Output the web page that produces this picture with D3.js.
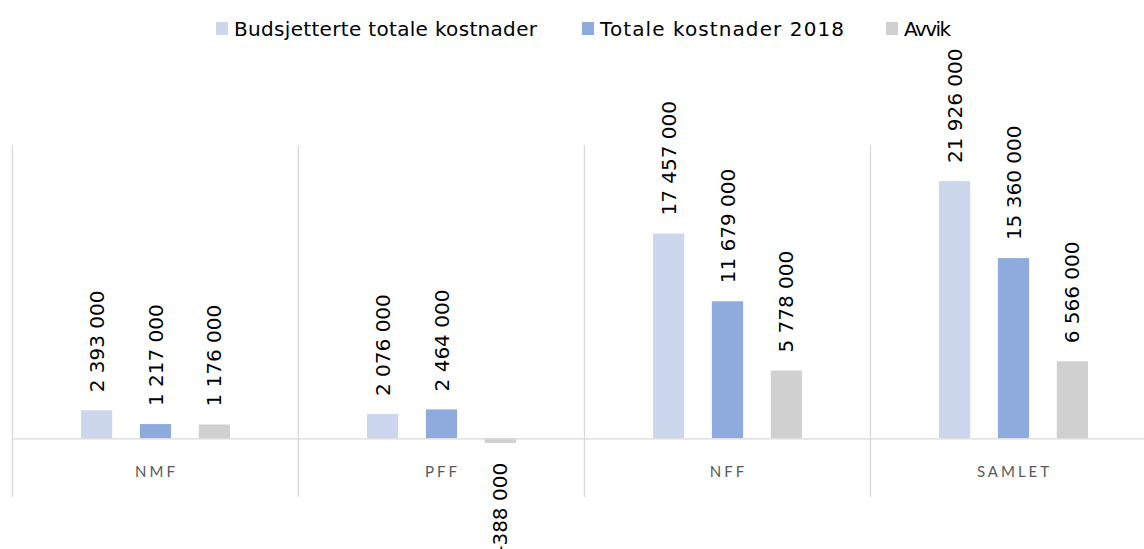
<!DOCTYPE html>
<html>
<head>
<meta charset="utf-8">
<script src="https://cdn.jsdelivr.net/npm/d3@7"></script>
<style>
  body { margin: 0; background: #fff; }
  svg { display: block; font-family: "DejaVu Sans", sans-serif; }
</style>
</head>
<body>
<svg id="chart" width="1144" height="549"></svg>
<script>
const categories = ['NMF', 'PFF', 'NFF', 'SAMLET']
const seriesNames = ['Budsjetterte totale kostnader', 'Totale kostnader 2018', 'Avvik']
const budsjett = [2393000, 2076000, 17457000, 21926000]
const totale = [1217000, 2464000, 11679000, 15360000]
const avvik = [1176000, -388000, 5778000, 6566000]
const colors = ['#CCD7EE', '#8FAADC', '#D0D0D0']

const width = 1144, height = 549
const svg = d3.select('#chart')

const values = [budsjett, totale, avvik]

// scales
const xScale = d3.scaleBand(categories, [12, 1156]).paddingInner(0).paddingOuter(0)
const xInner = d3.scaleBand(d3.range(3), [69, 286 - 68]).paddingInner(0.47).paddingOuter(0)
const yScale = d3.scaleLinear().domain([-5000000, 25000000]).range([497, 145])

const fmt = v => d3.format(',')(v).replace(/,/g, ' ').replace('−', '-')

// category divider lines
svg.append('g')
  .selectAll('line')
  .data(categories)
  .join('line')
  .attr('x1', d => xScale(d) + 0.5)
  .attr('x2', d => xScale(d) + 0.5)
  .attr('y1', yScale.range()[1])
  .attr('y2', yScale.range()[0])
  .attr('stroke', '#D9D9D9')
  .attr('stroke-width', 1.3)

// bars + value labels
values.forEach((arr, s) => {
  svg.append('g')
    .selectAll('rect')
    .data(arr)
    .join('rect')
    .attr('x', (d, i) => xScale(categories[i]) + xInner(s))
    .attr('y', d => yScale(Math.max(0, d)))
    .attr('width', xInner.bandwidth())
    .attr('height', d => Math.abs(yScale(d) - yScale(0)))
    .attr('fill', colors[s])

  svg.append('g')
    .selectAll('text')
    .data(arr)
    .join('text')
    .attr('transform', (d, i) => {
      const cx = xScale(categories[i]) + xInner(s) + xInner.bandwidth() / 2
      const y = d >= 0 ? yScale(d) - 18 : yScale(d) + 20
      return `translate(${cx + 7},${y}) rotate(-90)`
    })
    .attr('text-anchor', d => d >= 0 ? 'start' : 'end')
    .attr('font-size', 20)
    .attr('fill', '#000')
    .text(d => fmt(d))
})

// baseline
svg.append('line')
  .attr('x1', 12).attr('x2', width)
  .attr('y1', yScale(0) + 0.5).attr('y2', yScale(0) + 0.5)
  .attr('stroke', '#D9D9D9')
  .attr('stroke-width', 1.3)

// category labels
svg.append('g')
  .selectAll('text')
  .data(categories)
  .join('text')
  .attr('x', d => xScale(d) + xScale.bandwidth() / 2 + 1.5)
  .attr('y', 477)
  .attr('text-anchor', 'middle')
  .attr('font-family', 'Lato, sans-serif')
  .attr('font-size', 15)
  .attr('letter-spacing', 3)
  .attr('fill', '#595959')
  .text(d => d)

// legend
const legend = svg.append('g')
const legendX = [216, 582, 886]
const legendLen = [303, 244, 47]
seriesNames.forEach((name, i) => {
  legend.append('rect')
    .attr('x', legendX[i]).attr('y', 22)
    .attr('width', 12).attr('height', 13)
    .attr('fill', colors[i])
  legend.append('text')
    .attr('x', legendX[i] + 18).attr('y', 36)
    .attr('font-size', 20)
    .attr('textLength', legendLen[i])
    .attr('lengthAdjust', 'spacing')
    .attr('fill', '#000')
    .text(name)
})
</script>
</body>
</html>
